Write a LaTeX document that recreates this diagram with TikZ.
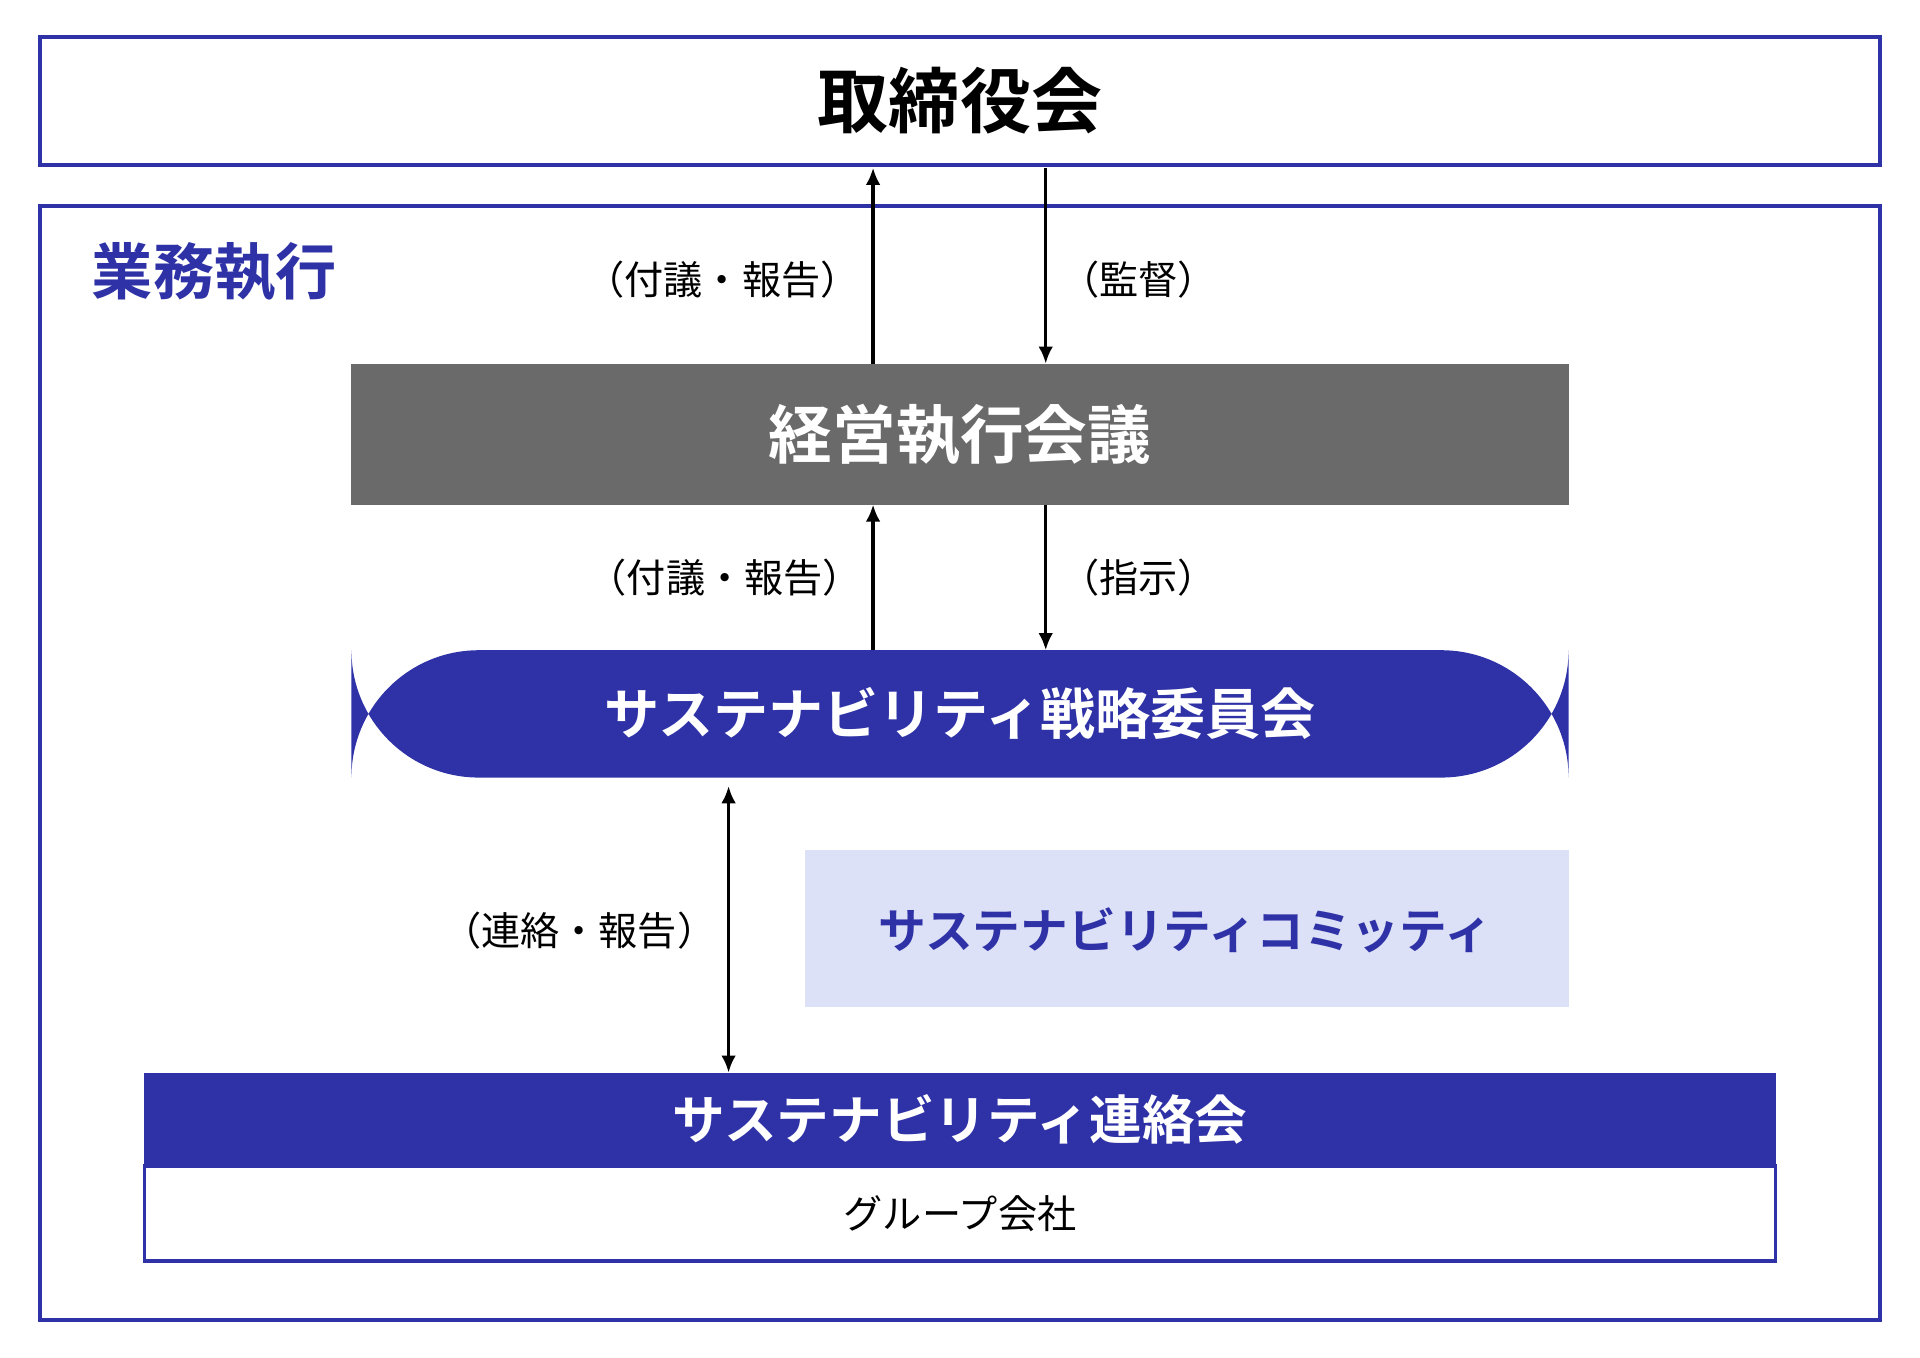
\documentclass[tikz,border=0pt]{standalone}
\usetikzlibrary{arrows.meta}
\usepackage{fontspec}
\setmainfont{Noto Sans CJK JP}
\newfontfamily\jpb{Noto Sans CJK JP Bold}
\definecolor{mblue}{HTML}{2E32A6}
\definecolor{mgray}{HTML}{6A6A6A}
\definecolor{lblue}{HTML}{DCE1F7}
\begin{document}
\begin{tikzpicture}[x=0.5pt,y=-0.5pt,
  frame/.style={draw=mblue,line width=1.6pt},
  arr/.style={-{Latex[length=7pt,width=6pt]},line width=1.3pt},
  lbl/.style={font=\fontsize{16pt}{18pt}\selectfont},
  big/.style={font=\jpb\fontsize{#1}{#1}\selectfont}]
\useasboundingbox (0,0) rectangle (1568,1109);
\draw[frame] (33,30) rectangle (1535,135);
\node[big=29pt] (tb) at (784,82) {取締役会};
\coordinate (tbU) at (713,137);
\coordinate (tbD) at (854,137);
\draw[frame] (33,168) rectangle (1535,1078);
\node[big=25pt,text=mblue,anchor=west] (gy) at (68,222) {業務執行};
\fill[mgray] (287,297) rectangle (1281,412);
\node[big=26pt,text=white] (kk) at (784,355) {経営執行会議};
\coordinate (kkT1) at (713,297); \coordinate (kkT2) at (854,297);
\coordinate (kkB1) at (713,412); \coordinate (kkB2) at (854,412);
\draw[arr] (kkT1) -- (tbU);
\draw[arr] (tbD) -- (kkT2);
\node[lbl] (l1) at (590,228) {（付議・報告）};
\node[lbl] (l2) at (930,228) {（監督）};
\fill[mblue,rounded corners=52pt] (287,531) rectangle (1281,635);
\node[big=22.5pt,text=white] (ss) at (784,583) {サステナビリティ戦略委員会};
\coordinate (ssT1) at (713,531); \coordinate (ssT2) at (854,531);
\draw[arr] (ssT1) -- (kkB1);
\draw[arr] (kkB2) -- (ssT2);
\node[lbl] (l3) at (592,472) {（付議・報告）};
\node[lbl] (l4) at (930,472) {（指示）};
\fill[lblue] (657,694) rectangle (1281,822);
\node[big=19.5pt,text=mblue] (cm) at (968,760) {サステナビリティコミッティ};
\fill[mblue] (118,876) rectangle (1450,952);
\node[big=21.5pt,text=white] (rr) at (784,914) {サステナビリティ連絡会};
\draw[frame] (118,952) rectangle (1450,1030);
\node[lbl] (gr) at (784,991) {グループ会社};
\coordinate (ssB) at (595,642); \coordinate (rrT) at (595,876);
\draw[line width=1.3pt,{Latex[length=7pt,width=6pt]}-{Latex[length=7pt,width=6pt]}] (ssB) -- (rrT);
\node[lbl] (l5) at (473,760) {（連絡・報告）};
\end{tikzpicture}
\end{document}
